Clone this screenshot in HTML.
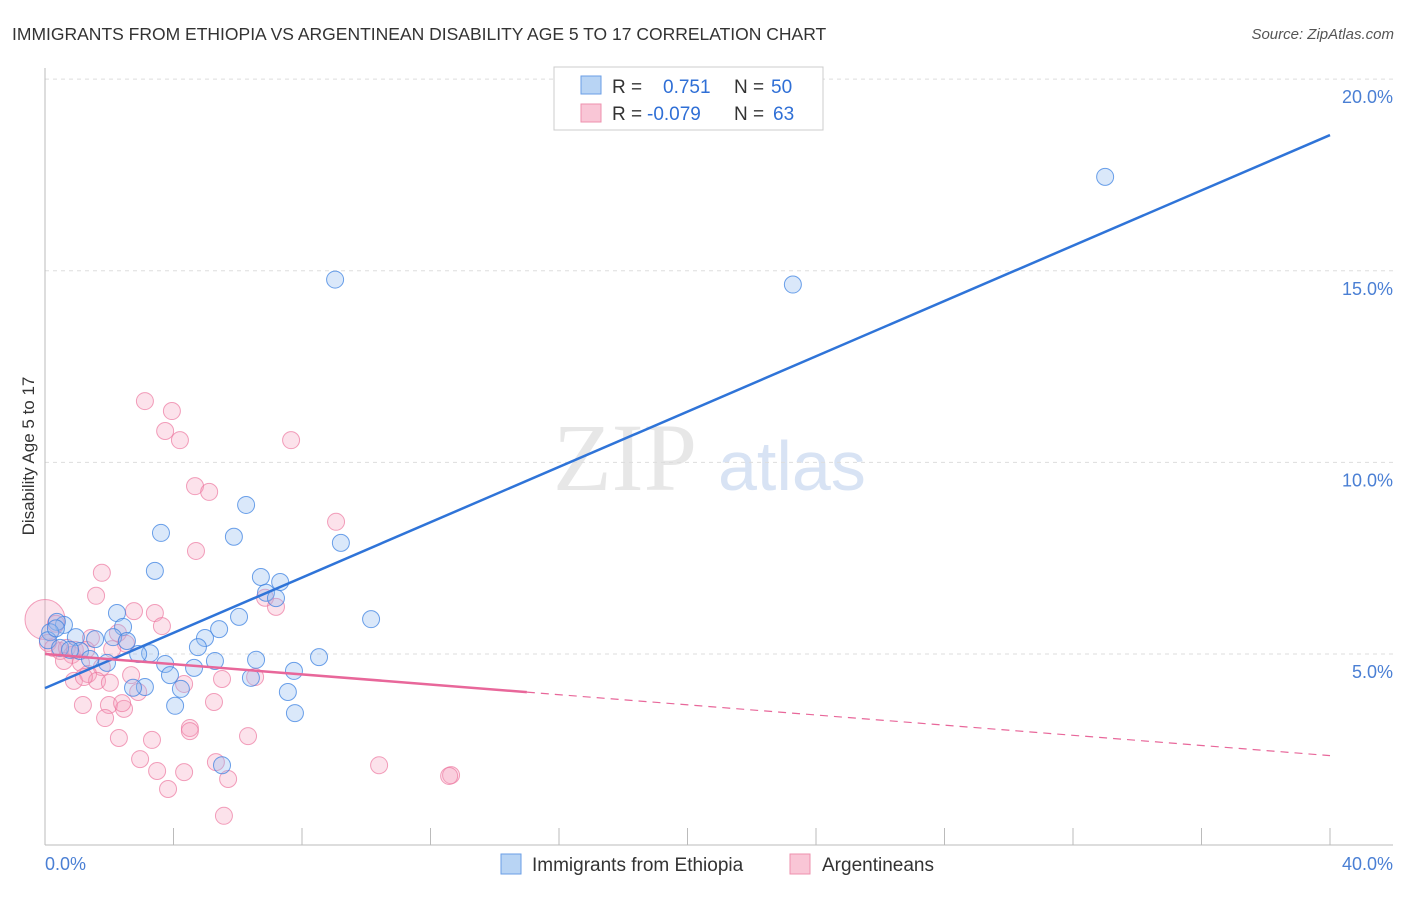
<!DOCTYPE html>
<html><head><meta charset="utf-8"><style>
body{margin:0;background:#fff;font-family:"Liberation Sans",sans-serif;}
</style></head><body>
<svg id="c" width="1406" height="892" xmlns="http://www.w3.org/2000/svg">
<text x="12" y="40" font-size="17.5" fill="#333">IMMIGRANTS FROM ETHIOPIA VS ARGENTINEAN DISABILITY AGE 5 TO 17 CORRELATION CHART</text>
<text x="1394" y="39" font-size="15" fill="#555" font-style="italic" text-anchor="end">Source: ZipAtlas.com</text>
<text x="0" y="0" transform="translate(34,456) rotate(-90)" font-size="17" fill="#333" text-anchor="middle">Disability Age 5 to 17</text>
<g><text x="553" y="490" font-size="96" fill="#ddd" font-family="Liberation Serif,serif" opacity="0.7">ZIP</text><text x="718" y="490" font-size="70" fill="#c8d8f0" opacity="0.7">atlas</text></g>
<g id="grid"></g><g id="axes"></g><g id="marks"></g>
<g>
<rect x="554" y="67" width="269" height="63" fill="#fff" stroke="#ccc"/>
<rect x="581" y="76" width="20" height="18" fill="#b8d4f4" stroke="#6a9ee6"/>
<rect x="581" y="104" width="20" height="18" fill="#f9c6d6" stroke="#ee90ae"/>
<text x="612" y="93" font-size="19" fill="#333">R = </text><text x="663" y="93" font-size="19" fill="#2f6fd6">0.751</text>
<text x="734" y="93" font-size="19" fill="#333">N = </text><text x="771" y="93" font-size="19" fill="#2f6fd6">50</text>
<text x="612" y="120" font-size="19" fill="#333">R = </text><text x="647" y="120" font-size="19" fill="#2f6fd6">-0.079</text>
<text x="734" y="120" font-size="19" fill="#333">N = </text><text x="773" y="120" font-size="19" fill="#2f6fd6">63</text>
</g>
<g>
<rect x="501" y="854" width="20" height="20" fill="#b8d4f4" stroke="#6a9ee6"/>
<text x="532" y="871" font-size="19" fill="#333">Immigrants from Ethiopia</text>
<rect x="790" y="854" width="20" height="20" fill="#f9c6d6" stroke="#ee90ae"/>
<text x="822" y="871" font-size="19" fill="#333">Argentineans</text>
</g>
</svg>
<script>
const yTicks=[5,10,15,20];
const yTickLabels=["5.0%","10.0%","15.0%","20.0%"];
const xTickLabels=["0.0%","40.0%"];
const blueX=[33.0,9.03,23.28,6.26,3.61,5.88,9.21,3.42,6.72,7.32,6.88,7.19,6.04,10.15,2.24,2.43,0.59,0.37,5.42,4.98,0.96,1.56,2.12,2.55,4.76,3.27,2.90,1.09,8.53,6.57,5.29,3.74,1.93,1.40,4.64,7.75,3.89,6.41,3.11,2.74,4.23,7.56,4.05,7.78,5.51,0.16,0.09,0.34,0.47,0.78];
const blueY=[17.45,14.77,14.64,8.89,8.16,8.06,7.90,7.17,7.01,6.88,6.60,6.46,5.97,5.91,6.07,5.71,5.76,5.84,5.65,5.42,5.44,5.39,5.44,5.34,5.18,5.02,5.00,5.08,4.92,4.85,4.82,4.74,4.77,4.87,4.64,4.56,4.45,4.38,4.14,4.12,4.09,4.01,3.65,3.46,2.10,5.57,5.36,5.67,5.16,5.11];
const pinkX=[0,3.11,3.95,3.74,4.20,7.66,4.67,5.11,9.06,4.70,1.77,1.59,2.77,3.42,3.64,6.85,7.19,0.34,2.27,1.43,2.52,0.09,0.47,0.68,0.84,1.12,1.77,1.34,0.90,1.62,1.21,2.02,2.68,2.90,4.33,5.51,6.54,5.26,1.99,2.46,1.18,2.40,1.87,4.51,4.51,2.30,3.33,6.32,2.96,5.32,3.49,4.33,10.40,5.70,3.83,12.64,12.58,5.57,0.25,0.59,0.93,1.28,2.09];
const pinkY=[5.9,11.60,11.34,10.82,10.58,10.58,9.38,9.23,8.45,7.69,7.12,6.52,6.12,6.07,5.73,6.47,6.23,5.79,5.55,5.42,5.27,5.29,5.08,5.16,4.98,4.77,4.66,4.48,4.30,4.30,4.40,4.25,4.45,4.01,4.22,4.35,4.40,3.75,3.67,3.57,3.67,3.72,3.33,3.07,2.99,2.81,2.76,2.86,2.26,2.18,1.95,1.92,2.10,1.74,1.48,1.84,1.82,0.78,5.16,4.82,5.11,5.11,5.13];
const blueTrend=[4.11,18.54]; // y at x=0 and x=40
const pinkTrend=[5.0,2.35];
const pinkSolidEnd=15.0;
const X=v=>45+v/40*1285, Y=v=>845.7-v*38.33;
const NS="http://www.w3.org/2000/svg";
function mk(t,a,p){const e=document.createElementNS(NS,t);for(const k in a)e.setAttribute(k,a[k]);p.appendChild(e);return e;}
const grid=document.getElementById('grid'),axes=document.getElementById('axes'),marks=document.getElementById('marks');
yTicks.forEach((v,i)=>{
 const l=mk('line',{x1:45,x2:1393,y1:Y(v),y2:Y(v),stroke:'#ddd','stroke-dasharray':'4,4'},grid);
 
 
 const t=mk('text',{x:1393,y:Y(v)+24,'font-size':18,fill:'#4a7fd4','text-anchor':'end'},axes);
 t.textContent=yTickLabels[i];
 
 
});
const ax=mk('line',{x1:45,x2:45,y1:68,y2:845,stroke:'#bbb'},axes);


const bx=mk('line',{x1:45,x2:1393,y1:845,y2:845,stroke:'#bbb'},axes);


for(let v=0;v<=40;v+=4){
 const tk=mk('line',{x1:X(v),x2:X(v),y1:828,y2:845,stroke:'#bbb'},axes);
 
 
}
[[0,'start'],[40,'end']].forEach((d,i)=>{
 const t=mk('text',{x:i?1393:45,y:870,'font-size':18,fill:'#4a7fd4','text-anchor':d[1]},axes);
 t.textContent=xTickLabels[i];
 
 
});
pinkX.forEach((x,i)=>{
 const c=mk('circle',{cx:X(x),cy:Y(pinkY[i]),r:i===0?20:8.5,fill:'rgba(246,160,190,0.3)',stroke:'rgba(236,120,160,0.7)','stroke-width':1},marks);
 
 
});
blueX.forEach((x,i)=>{
 const c=mk('circle',{cx:X(x),cy:Y(blueY[i]),r:8.5,fill:'rgba(150,190,240,0.35)',stroke:'rgba(60,130,225,0.75)','stroke-width':1},marks);
 
 
});
const bl=mk('line',{x1:X(0),y1:Y(blueTrend[0]),x2:X(40),y2:Y(blueTrend[1]),stroke:'#2f74d8','stroke-width':2.5},marks);


const py=v=>pinkTrend[0]+(pinkTrend[1]-pinkTrend[0])*v/40;
const pl=mk('line',{x1:X(0),y1:Y(pinkTrend[0]),x2:X(pinkSolidEnd),y2:Y(py(pinkSolidEnd)),stroke:'#e8679a','stroke-width':2.5},marks);


const pd=mk('line',{x1:X(pinkSolidEnd),y1:Y(py(pinkSolidEnd)),x2:X(40),y2:Y(pinkTrend[1]),stroke:'#e8679a','stroke-width':1.2,'stroke-dasharray':'8,6'},marks);


</script>
</body></html>
